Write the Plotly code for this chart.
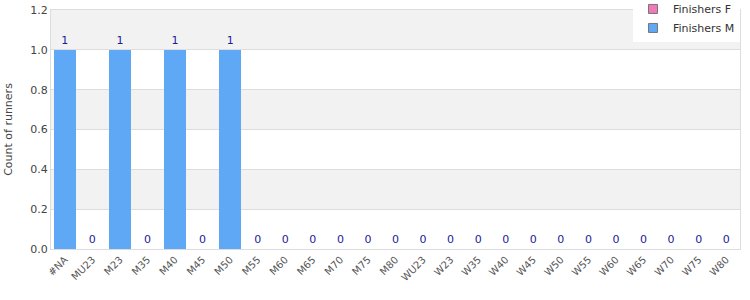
import plotly.graph_objects as go

categories = ["#NA", "MU23", "M23", "M35", "M40", "M45", "M50", "M55", "M60", "M65", "M70", "M75", "M80",
              "WU23", "W23", "W35", "W40", "W45", "W50", "W55", "W60", "W65", "W70", "W75", "W80"]
finishers_f = [0] * len(categories)
finishers_m = [1, 0, 1, 0, 1, 0, 1, 0, 0, 0, 0, 0, 0, 0, 0, 0, 0, 0, 0, 0, 0, 0, 0, 0, 0]
totals = [f + m for f, m in zip(finishers_f, finishers_m)]
y_ticks = [0.0, 0.2, 0.4, 0.6, 0.8, 1.0, 1.2]

color_f = "#f07ab8"
color_m = "#5fa8f5"

fig = go.Figure()
fig.add_trace(go.Bar(name="Finishers F", x=categories, y=finishers_f, showlegend=False,
                     marker=dict(color=color_f, line=dict(width=0))))
fig.add_trace(go.Bar(name="Finishers M", x=categories, y=finishers_m, showlegend=False,
                     marker=dict(color=color_m, line=dict(width=0)),
                     text=[str(t) for t in totals], textposition="outside",
                     textfont=dict(color="#1c1c96", size=11, family="DejaVu Sans"),
                     cliponaxis=False))
# legend entries (square swatches with grey border)
for name, col in [("Finishers F", color_f), ("Finishers M", color_m)]:
    fig.add_trace(go.Scatter(name=name, x=[None], y=[None], mode="markers",
                             marker=dict(symbol="square", size=9, color=col,
                                         line=dict(color="#777", width=1))))

shapes = []
for i in range(len(y_ticks) - 1):
    if i % 2 == 1:
        shapes.append(dict(type="rect", xref="paper", yref="y", x0=0, x1=1,
                           y0=y_ticks[i], y1=y_ticks[i + 1], fillcolor="#f2f2f2",
                           line=dict(width=0), layer="below"))

fig.update_layout(
    width=750, height=300,
    margin=dict(l=51, r=10, t=10, b=51, autoexpand=False),
    barmode="stack", bargap=0.22,
    plot_bgcolor="white", paper_bgcolor="white",
    font=dict(family="DejaVu Sans", size=11, color="#444"),
    shapes=shapes,
    showlegend=True,
    legend=dict(x=1, xanchor="right", y=1.065, yanchor="top", bgcolor="white",
                font=dict(size=11, color="#333"), traceorder="normal",
                tracegroupgap=0, itemwidth=30),
    xaxis=dict(tickangle=-45, tickfont=dict(size=10, color="#555"), showline=True,
               linecolor="#ddd", mirror=True, ticks="", showgrid=False),
    yaxis=dict(range=[0, 1.2], tickvals=y_ticks, tickformat=".1f", showgrid=True,
               gridcolor="#ddd", showline=True, linecolor="#ddd", mirror=True,
               zeroline=False, title=dict(text="Count of runners", font=dict(size=11)),
               tickfont=dict(size=11)),
)

fig.write_html("out.html")
